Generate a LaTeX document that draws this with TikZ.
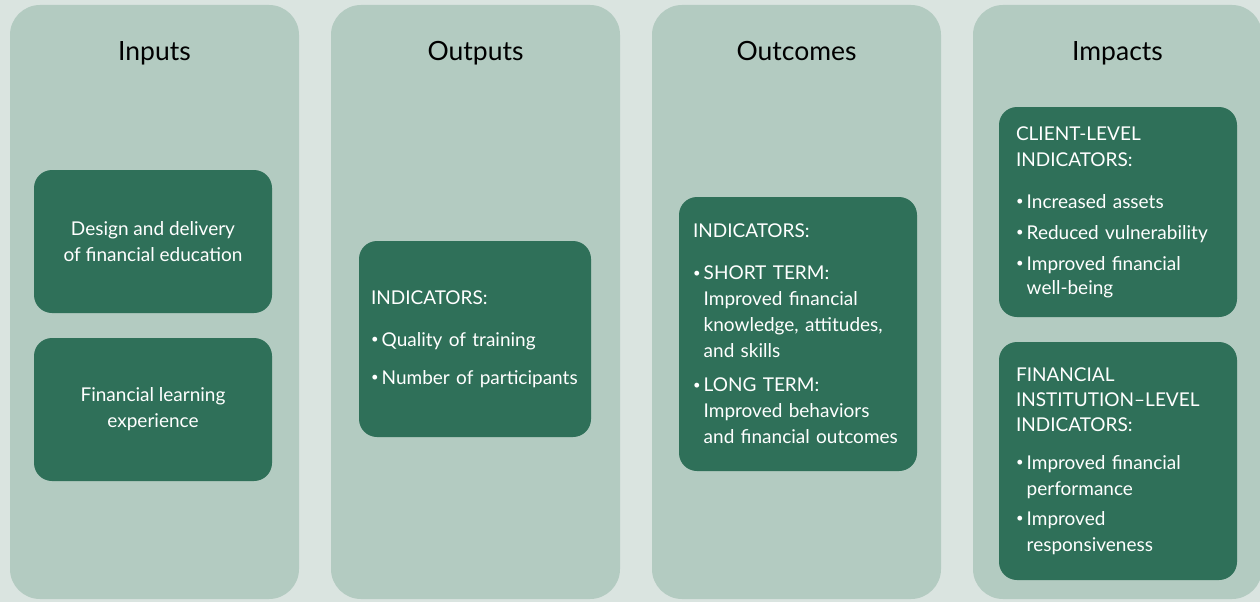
\documentclass[tikz,border=0pt]{standalone}
\usepackage{fontspec}
\setmainfont{Lato}
\definecolor{pagebg}{RGB}{218,228,224}
\definecolor{colbg}{RGB}{179,203,193}
\definecolor{boxbg}{RGB}{47,112,89}
\newcommand{\bul}{\raisebox{0.12em}{\fontsize{13}{13}\selectfont\textbullet}\,}
\newcommand{\ind}{\phantom{\bul}}
\tikzset{
  col/.style={fill=colbg, rounded corners=30pt, minimum width=289pt, minimum height=594pt, inner sep=0pt},
  coltitle/.style={font=\fontsize{26.5}{30}\selectfont, text=black, anchor=base},
  darkbox/.style={fill=boxbg, rounded corners=18pt, text=white, minimum width=238pt, inner sep=0pt,
    font=\fontsize{19}{26}\selectfont},
}
\begin{document}
\begin{tikzpicture}[x=1pt, y=-1pt]
  \fill[pagebg] (0,0) rectangle (1260,602);
  \useasboundingbox (0,0) rectangle (1260,602);
  % columns
  \node[col] (inputs) at (154.5,302) {};
  \node[col] (outputs) at (475.5,302) {};
  \node[col] (outcomes) at (796.5,302) {};
  \node[col] (impacts) at (1117.5,302) {};
  \node[coltitle] (inputs-t) at (154.5,60) {Inputs};
  \node[coltitle] (outputs-t) at (475.5,60) {Outputs};
  \node[coltitle] (outcomes-t) at (796.5,60) {Outcomes};
  \node[coltitle] (impacts-t) at (1117.5,60) {Impacts};
  % inputs
  \node[darkbox, minimum height=143pt, align=center] (design) at (153,241.5)
    {Design and delivery\\of financial education};
  \node[darkbox, minimum height=143pt, align=center] (learning) at (153,409.5)
    {Financial learning\\experience};
  % outputs
  \node[darkbox, minimum width=232pt, minimum height=196pt, text width=208pt, align=left] (outind) at (475,339)
    {INDICATORS:\\[16pt]
     \bul Quality of training\\[12pt]
     \bul Number of participants};
  % outcomes
  \node[darkbox, minimum height=274pt, text width=210pt, align=left] (outcind) at (798,334)
    {INDICATORS:\\[16pt]
     \bul SHORT TERM:\\
     \ind Improved financial\\
     \ind knowledge, attitudes,\\
     \ind and skills\\[8pt]
     \bul LONG TERM:\\
     \ind Improved behaviors\\
     \ind and financial outcomes};
  % impacts
  \node[darkbox, minimum height=210pt, text width=204pt, align=left] (client) at (1118,212)
    {CLIENT-LEVEL\\
     INDICATORS:\\[16pt]
     \bul Increased assets\\[5pt]
     \bul Reduced vulnerability\\[5pt]
     \bul Improved financial\\[-2pt]
     \ind well-being};
  \node[darkbox, minimum height=238pt, text width=204pt, align=left] (institution) at (1118,461)
    {FINANCIAL\\[-1pt]
     INSTITUTION--LEVEL\\[-1pt]
     INDICATORS:\\[12pt]
     \bul Improved financial\\
     \ind performance\\[4pt]
     \bul Improved\\
     \ind responsiveness};
\end{tikzpicture}
\end{document}
